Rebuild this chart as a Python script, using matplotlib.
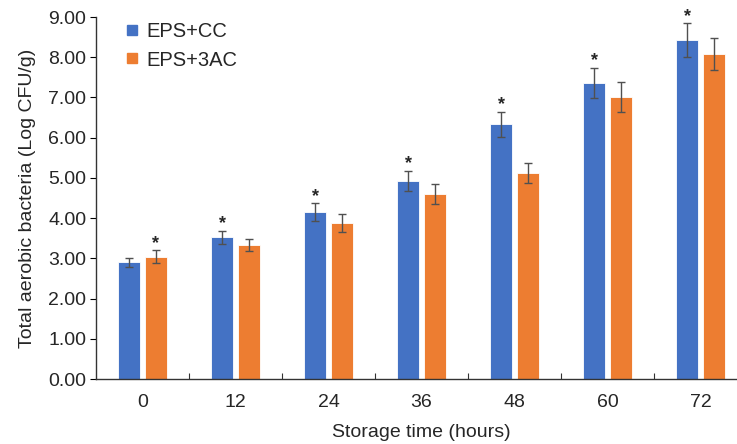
import matplotlib
matplotlib.use("Agg")
import matplotlib.pyplot as plt
from matplotlib.lines import Line2D
import numpy as np

plt.rcParams["font.family"] = ["Liberation Sans", "DejaVu Sans"]

# data
hours = ["0", "12", "24", "36", "48", "60", "72"]
cc_mean = [2.90, 3.52, 4.15, 4.92, 6.33, 7.36, 8.42]
cc_err = [0.12, 0.17, 0.22, 0.25, 0.31, 0.38, 0.42]
ac_mean = [3.04, 3.33, 3.87, 4.61, 5.12, 7.02, 8.08]
ac_err = [0.16, 0.16, 0.22, 0.25, 0.25, 0.37, 0.41]
cc_star = [False, True, True, True, True, True, True]
ac_star = [True, False, False, False, False, False, False]

BLUE = "#4472C4"
ORANGE = "#ED7D31"
ERR = "#505050"
TXT = "#262626"

fig = plt.figure(figsize=(7.37, 4.44), dpi=100)
ax = fig.add_axes([96 / 737, 65 / 444, 651 / 737, 362 / 444])

x = np.arange(len(hours))
w = 0.235
off = 0.142

ax.bar(x - off, cc_mean, w, color=BLUE, edgecolor="white", linewidth=0.6,
       yerr=cc_err, error_kw=dict(ecolor=ERR, elinewidth=1, capsize=3, capthick=1),
       zorder=2)
ax.bar(x + off, ac_mean, w, color=ORANGE, edgecolor="white", linewidth=0.6,
       yerr=ac_err, error_kw=dict(ecolor=ERR, elinewidth=1, capsize=3, capthick=1),
       zorder=2)

# significance stars above the error bars
for i in range(len(hours)):
    if cc_star[i]:
        ax.annotate("*", (x[i] - off, cc_mean[i] + cc_err[i]), textcoords="offset points",
                    xytext=(0, -1), ha="center", va="bottom", fontsize=13,
                    fontweight="bold", color=TXT)
    if ac_star[i]:
        ax.annotate("*", (x[i] + off, ac_mean[i] + ac_err[i]), textcoords="offset points",
                    xytext=(0, -1), ha="center", va="bottom", fontsize=13,
                    fontweight="bold", color=TXT)

ax.set_xlim(-0.5, len(hours) - 0.5)
ax.set_ylim(0, 9)
ax.set_yticks(np.arange(0, 9.01, 1))
ax.set_yticklabels([f"{v:.2f}" for v in np.arange(0, 9.01, 1)])
ax.set_xticks(x)
ax.set_xticklabels(hours)
ax.set_xticks(np.arange(0.5, len(hours) - 0.5, 1), minor=True)
ax.tick_params(axis="x", which="major", length=0, pad=11, labelsize=14, labelcolor=TXT)
ax.tick_params(axis="x", which="minor", direction="in", length=4, width=0.8, color="#333333")
ax.tick_params(axis="y", which="major", direction="out", length=4, width=0.8,
               labelsize=14, labelcolor=TXT, pad=3)

for s in ["top", "right"]:
    ax.spines[s].set_visible(False)
for s in ["left", "bottom"]:
    ax.spines[s].set_color("#333333")
    ax.spines[s].set_linewidth(1.0)

ax.set_xlabel("Storage time (hours)", fontsize=14, color=TXT, labelpad=9)
ax.set_ylabel("Total aerobic bacteria (Log CFU/g)", fontsize=14, color=TXT, labelpad=9)

handles = [
    Line2D([], [], marker="s", linestyle="none", color=BLUE, markersize=7),
    Line2D([], [], marker="s", linestyle="none", color=ORANGE, markersize=7),
]
ax.legend(handles, ["EPS+CC", "EPS+3AC"], loc="upper left", bbox_to_anchor=(0.018, 1.035),
          frameon=False, fontsize=14.5, handlelength=0.6, handletextpad=0.4,
          labelspacing=0.45, labelcolor=TXT)

fig.savefig("out.png", dpi=100)
